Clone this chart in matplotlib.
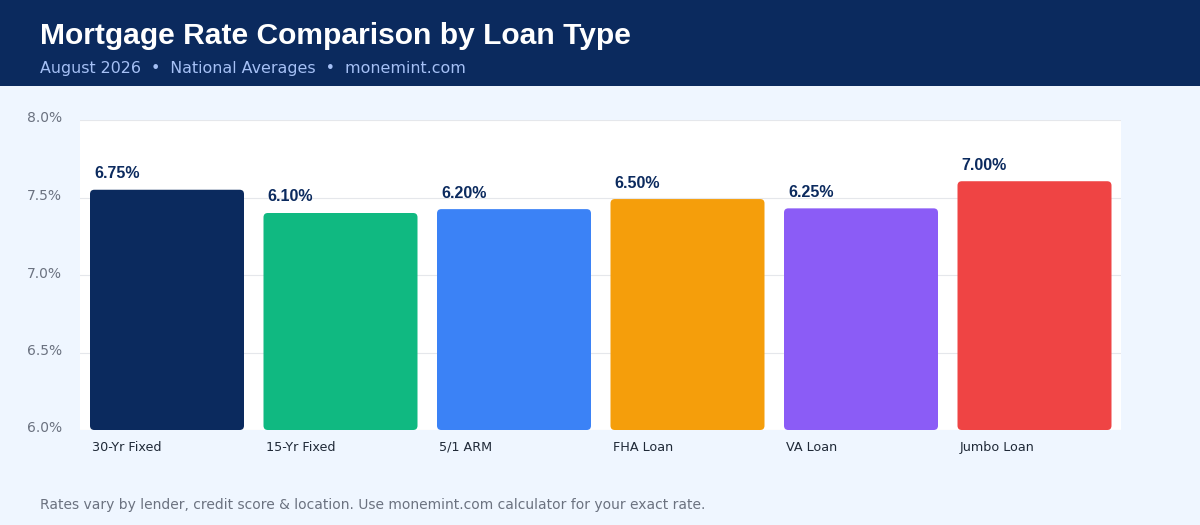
import matplotlib.pyplot as plt
import matplotlib.transforms as mtransforms
from matplotlib import font_manager
from matplotlib.patches import FancyBboxPatch, Rectangle

loan_types = ["30-Yr Fixed", "15-Yr Fixed", "5/1 ARM", "FHA Loan", "VA Loan", "Jumbo Loan"]
rate_labels = ["6.75%", "6.10%", "6.20%", "6.50%", "6.25%", "7.00%"]
bar_heights = [7.55, 7.40, 7.425, 7.49, 7.43, 7.605]  # as drawn on the axis
bar_colors = ["#0B2A5E", "#10B981", "#3B82F6", "#F59E0B", "#8B5CF6", "#EF4444"]
y_ticks = [6.0, 6.5, 7.0, 7.5, 8.0]


def bold_font(size):
    return font_manager.FontProperties(family="Liberation Sans", weight="bold", size=size)


fig = plt.figure(figsize=(12, 5.25), dpi=100)
fig.patch.set_facecolor("#EFF6FF")

# header band
fig.patches.append(Rectangle((0, 1 - 86 / 525), 1, 86 / 525, transform=fig.transFigure,
                             facecolor="#0B2A5E", edgecolor="none", zorder=0))
fig.text(40 / 1200, 1 - 36 / 525, "Mortgage Rate Comparison by Loan Type",
         fontproperties=bold_font(21.6), color="white", va="center")
fig.text(40 / 1200, 1 - 68 / 525, "August 2026  \u2022  National Averages  \u2022  monemint.com",
         family="DejaVu Sans", size=11.4, color="#A5C0F5", va="center")
fig.text(40 / 1200, 1 - 505 / 525,
         "Rates vary by lender, credit score & location. Use monemint.com calculator for your exact rate.",
         family="DejaVu Sans", size=10.02, color="#6B7280", va="center")

ax = fig.add_axes([80 / 1200, 95 / 525, 1041 / 1200, 310 / 525])
ax.set_facecolor("white")
ax.set_xlim(0, 6)
ax.set_ylim(6.0, 8.0)
for s in ax.spines.values():
    s.set_visible(False)

ax.set_yticks(y_ticks)
ax.set_yticklabels([f"{t:.1f}%" for t in y_ticks])
ax.tick_params(axis="y", length=0, pad=13, labelsize=10, labelcolor="#6B7280")
shift = mtransforms.ScaledTranslation(0, 3 / 100, fig.dpi_scale_trans)
for lbl in ax.get_yticklabels():
    lbl.set_transform(lbl.get_transform() + shift)
ax.set_xticks([])
for t in y_ticks:
    ax.axhline(t, color="#E5E7EB", lw=0.8, zorder=0)

bw = 154 / 173.5
off = 10 / 173.5
for i, (h, c, lab, name) in enumerate(zip(bar_heights, bar_colors, rate_labels, loan_types)):
    x0 = i + off
    p = FancyBboxPatch((x0, 6.0), bw, h - 6.0,
                       boxstyle="round,pad=0,rounding_size=0.025", mutation_aspect=1.12,
                       facecolor=c, edgecolor="none", zorder=2)
    ax.add_patch(p)
    ax.text(x0 + 0.024, h + 0.055, lab, fontproperties=bold_font(11.5),
            color="#0B2A5E", ha="left", va="bottom")
    ax.text(x0 + 0.012, 5.89, name, family="DejaVu Sans", size=9.2, color="#1F2937",
            ha="left", va="center", clip_on=False)

fig.savefig("out.png", dpi=100, facecolor=fig.get_facecolor())
